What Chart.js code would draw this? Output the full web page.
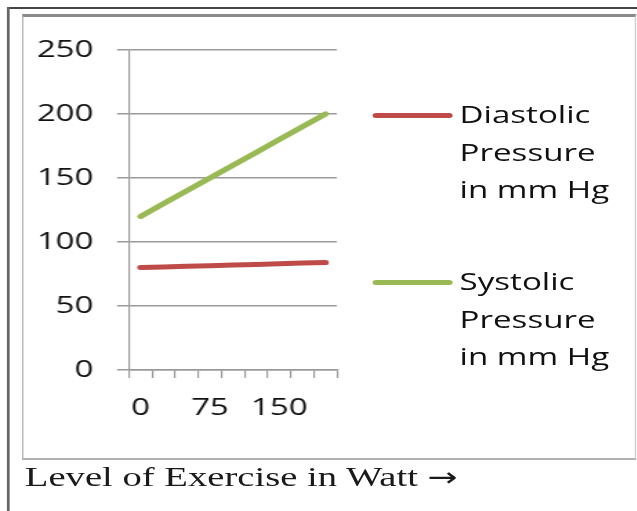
<!DOCTYPE html>
<html>
<head>
<meta charset="utf-8">
<script src="https://cdn.jsdelivr.net/npm/chart.js@4"></script>
<style>
  html, body { margin: 0; padding: 0; background: #fff; overflow: hidden; }
  /* the source picture is stretched sideways, so the whole figure is too */
  #page {
    position: relative; width: 462px; height: 511px;
    transform: scaleX(1.38); transform-origin: 0 0;
  }
  #topline { position: absolute; left: 5.5px; top: 7px; width: 460px; height: 2px; background: #444; }
  #leftline { position: absolute; left: 5.2px; top: 7px; width: 1.6px; height: 504px; background: #666; }
  #box {
    position: absolute; left: 16.2px; top: 13.5px; width: 443px; height: 441px;
    border-top: 3px solid #8a8a8a; border-left: 1.5px solid #b5b5b5;
    border-right: 1.5px solid #cfcfcf; border-bottom: 2.5px solid #b0b0b0;
  }
  #chart { position: absolute; left: 17px; top: 17px; }
  .legend { position: absolute; left: 270px; font: 24px "Open Sans", sans-serif; line-height: 37.5px; color: #111; }
  .legend .swatch { position: absolute; left: 0; top: 17.5px; width: 57.5px; height: 5px; border-radius: 2.5px; }
  .legend .text { position: absolute; left: 63px; top: 0; white-space: nowrap; }
  #xtitle {
    position: absolute; left: 18px; top: 463px; white-space: nowrap;
    font: 28px "Liberation Serif", "Times New Roman", serif; line-height: 27px; color: #1a1a1a;
  }
  #xtitle .arrow { font-family: "DejaVu Sans", sans-serif; font-size: 26px; }
</style>
</head>
<body>
<div id="page">
  <div id="topline"></div>
  <div id="leftline"></div>
  <div id="box"></div>
  <canvas id="chart" width="250" height="420"></canvas>
  <div id="legend"></div>
  <div id="xtitle">Level of Exercise in Watt <span class="arrow">→</span></div>
</div>
<script>
// exercise levels (watt) – only every third one gets a label
const levels = ["0", "25", "50", "75", "100", "125", "150", "175", "200"];
const labelledLevels = ["0", "75", "150"];

// pressure in mm Hg
const diastolic = [80, 80.5, 81, 81.5, 82, 82.5, 83, 83.5, 84];
const systolic = [120, 130, 140, 150, 160, 170, 180, 190, 200];

const yMin = 0;
const yMax = 250;
const yStep = 50;

const seriesNames = [
  ["Diastolic", "Pressure", "in mm Hg"],
  ["Systolic", "Pressure", "in mm Hg"],
];
const seriesColors = ["#BE4B48", "#98B954"];
const legendTops = [95, 262];

Chart.defaults.font.family = '"Open Sans", sans-serif';
Chart.defaults.font.size = 24;
Chart.defaults.color = "#111";

const GRID = "#9a9a9a";

const chart = new Chart(document.getElementById("chart"), {
  type: "line",
  data: {
    labels: levels,
    datasets: [diastolic, systolic].map((data, i) => ({
      label: seriesNames[i].join(" "),
      data,
      borderColor: seriesColors[i],
      backgroundColor: seriesColors[i],
      borderWidth: 5,
      borderCapStyle: "round",
      pointRadius: 0,
      tension: 0,
      fill: false,
    })),
  },
  options: {
    responsive: false,
    animation: false,
    layout: { padding: { left: 0, right: 22.8, top: 33, bottom: 7 } },
    plugins: { legend: { display: false }, tooltip: { enabled: false } },
    scales: {
      x: {
        offset: true,
        grid: { offset: true, drawOnChartArea: false, drawTicks: true, tickLength: 8, color: GRID, lineWidth: 1.2 },
        border: { display: true, color: GRID, width: 1.5 },
        ticks: {
          autoSkip: false,
          maxRotation: 0,
          padding: 16,
          callback: (v, i) => (labelledLevels.includes(levels[i]) ? levels[i] : ""),
        },
        afterFit: (s) => { s.height = 60; },
      },
      y: {
        min: yMin,
        max: yMax,
        ticks: { stepSize: yStep, padding: 17 },
        grid: { color: GRID, lineWidth: 1.5, drawTicks: true, tickLength: 8.7 },
        border: { display: true, color: GRID, width: 1.2 },
        afterFit: (s) => { s.width = 76.5; },
      },
    },
  },
});

// legend built from the datasets, names split over three lines
const legendEl = document.getElementById("legend");
chart.data.datasets.forEach((ds, i) => {
  const item = document.createElement("div");
  item.className = "legend";
  item.style.top = legendTops[i] + "px";
  item.innerHTML =
    '<div class="swatch" style="background:' + ds.borderColor + '"></div>' +
    '<div class="text">' + seriesNames[i].join("<br>") + "</div>";
  legendEl.appendChild(item);
});
</script>
</body>
</html>
